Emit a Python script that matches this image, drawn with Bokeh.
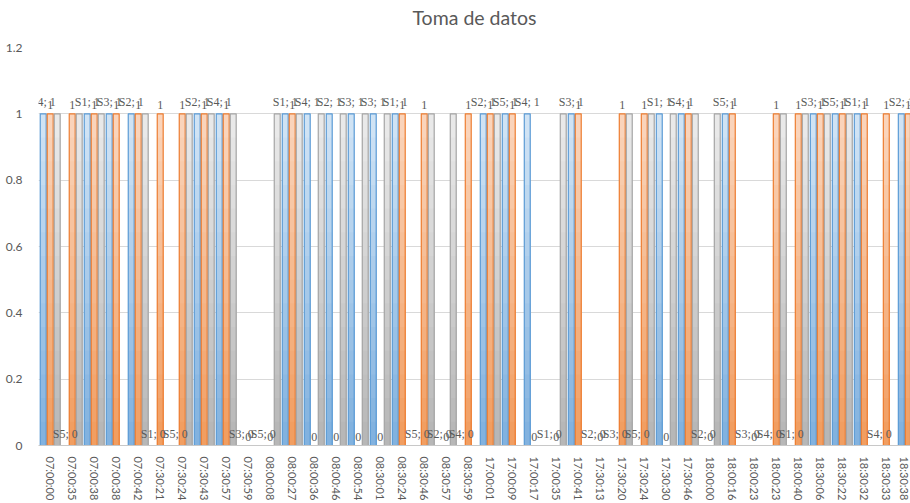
from bokeh.plotting import figure
from bokeh.models import ColumnDataSource, FixedTicker, Range1d, LabelSet, Title
from bokeh.embed import file_html
from bokeh.resources import INLINE

# ---------------- data ----------------
times = ["07:00:00", "07:00:35", "07:00:38", "07:00:38", "07:00:42", "07:30:21", "07:30:24",
         "07:30:43", "07:30:57", "07:30:59", "08:00:08", "08:00:27", "08:00:36", "08:00:46",
         "08:00:54", "08:30:01", "08:30:24", "08:30:46", "08:30:57", "08:30:59", "17:00:01",
         "17:00:09", "17:00:17", "17:00:35", "17:00:41", "17:30:13", "17:30:20", "17:30:24",
         "17:30:30", "17:30:46", "18:00:00", "18:00:16", "18:00:23", "18:00:23", "18:00:40",
         "18:30:06", "18:30:22", "18:30:32", "18:30:33", "18:30:38"]

sensors = ["S4", "S5", "S1", "S3", "S2", "S1", "S5", "S2", "S4", "S3",
           "S5", "S1", "S4", "S2", "S3", "S3", "S1", "S5", "S2", "S4",
           "S2", "S5", "S4", "S1", "S3", "S2", "S3", "S5", "S1", "S4",
           "S2", "S5", "S3", "S4", "S1", "S3", "S5", "S1", "S4", "S2"]

blue = [1, 0, 1, 1, 1, 0, 0, 1, 1, 0, 0, 1, 1, 1, 1, 1, 1, 0, 0, 0,
        1, 1, 1, 0, 1, 0, 0, 0, 1, 1, 0, 1, 0, 0, 0, 1, 1, 1, 0, 1]
orange = [1, 1, 1, 1, 1, 1, 1, 1, 1, 0, 0, 1, 0, 0, 0, 0, 1, 1, 0, 1,
          1, 1, 0, 0, 1, 0, 1, 1, 0, 1, 0, 1, 0, 1, 1, 1, 1, 1, 1, 1]
gray = [1, 1, 1, 0, 1, 0, 1, 1, 1, 0, 1, 1, 1, 1, 1, 1, 0, 1, 1, 0,
        1, 0, 0, 1, 0, 0, 1, 1, 1, 1, 1, 0, 0, 1, 1, 1, 1, 0, 0, 1]

y_ticks = [0, 0.2, 0.4, 0.6, 0.8, 1, 1.2]

# ---------------- styling helpers ----------------
FONT = "Lato"
TXT = "#595959"


def hex2rgb(h):
    h = h.lstrip("#")
    return tuple(int(h[i:i + 2], 16) for i in (0, 2, 4))


def lerp(c1, c2, t):
    a, b = hex2rgb(c1), hex2rgb(c2)
    return "#%02x%02x%02x" % tuple(int(round(a[i] + (b[i] - a[i]) * t)) for i in range(3))


p = figure(width=910, height=503, output_backend="svg", toolbar_location=None,
           x_range=Range1d(-0.532, 39.10), y_range=Range1d(0, 1.2),
           min_border_left=38, min_border_right=0, min_border_top=47, min_border_bottom=56)

p.title.text = "Toma de datos"
p.title.align = "center"
p.title.vertical_align = "top"
p.title.text_font = FONT
p.title.text_font_size = "19.5px"
p.title.text_font_style = "normal"
p.title.text_color = TXT
p.title.standoff = 9
# thin spacer between title and plot area (pushes the title upward)
p.add_layout(Title(text=" ", text_font_size="2px", standoff=8), "above")

p.outline_line_color = None
p.background_fill_color = "white"

series = [
    (blue, -0.318, "#5B9BD5", "#7FB0DE", "#D3E5F5"),
    (orange, 0.0, "#ED7D31", "#F19C5E", "#FAD6BE"),
    (gray, 0.318, "#A5A5A5", "#B5B5B5", "#EBEBEB"),
]
W = 0.27
N = 14

for vals, off, border, dark, light in series:
    idx = [i for i, v in enumerate(vals) if v > 0]
    xs = [i + off for i in idx]
    # gradient: full-height bars of decreasing height, lighter to darker
    for k in range(N, 0, -1):
        col = lerp(dark, light, (k - 0.5) / N)
        src = ColumnDataSource(dict(x=xs, top=[vals[i] * k / N for i in idx]))
        p.vbar(x="x", top="top", bottom=0, width=W, source=src,
               fill_color=col, fill_alpha=1.0, line_color=None)
    src = ColumnDataSource(dict(x=xs, top=[vals[i] for i in idx]))
    p.vbar(x="x", top="top", bottom=0, width=W, source=src,
           fill_alpha=0, line_color=border, line_width=1.2)

# data labels (blue: "Sx; v", orange: "v")
lab_blue = ColumnDataSource(dict(x=[i - 0.318 for i in range(len(blue))], y=blue,
                                 t=[f"{s}; {v}" for s, v in zip(sensors, blue)]))
lab_orange = ColumnDataSource(dict(x=[i for i in range(len(orange))], y=orange,
                                   t=[f"{v}" for v in orange]))
for src in (lab_blue, lab_orange):
    p.add_layout(LabelSet(x="x", y="y", text="t", source=src, text_align="center",
                          text_baseline="bottom", y_offset=5, text_font=FONT,
                          text_font_size="12px", text_color=TXT))

# axes
xa = p.xaxis[0]
xa.ticker = FixedTicker(ticks=list(range(len(times))))
xa.major_label_overrides = {i: t for i, t in enumerate(times)}
xa.major_label_orientation = "vertical"
xa.major_label_text_font = FONT
xa.major_label_text_font_size = "11px"
xa.major_label_text_color = TXT
xa.major_label_standoff = 5
xa.axis_line_color = "#C8C8C8"
xa.major_tick_line_color = None
xa.minor_tick_line_color = None

ya = p.yaxis[0]
ya.ticker = FixedTicker(ticks=y_ticks)
ya.major_label_overrides = {0: "0", 1: "1"}
ya.major_label_text_font = FONT
ya.major_label_text_font_size = "12px"
ya.major_label_text_color = TXT
ya.major_label_standoff = 10
ya.axis_line_color = None
ya.major_tick_line_color = None
ya.minor_tick_line_color = None

p.xgrid.grid_line_color = None
p.ygrid.ticker = FixedTicker(ticks=y_ticks)
p.ygrid.grid_line_color = "#D9D9D9"
p.ygrid.grid_line_width = 1

open("out.html", "w").write(file_html(p, INLINE))
